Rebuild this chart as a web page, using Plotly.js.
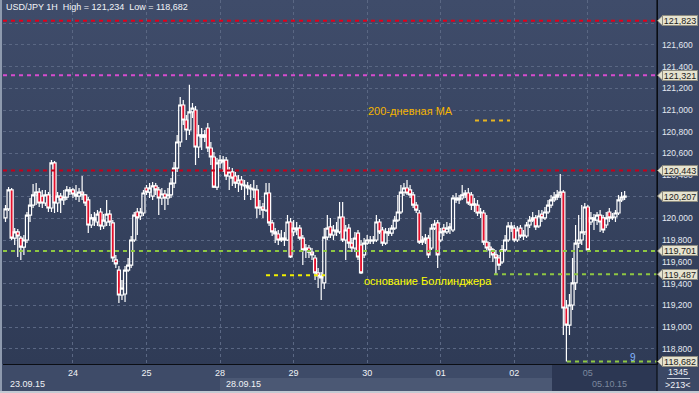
<!DOCTYPE html>
<html><head><meta charset="utf-8">
<script src="https://cdn.plot.ly/plotly-3.0.1.min.js"></script>
<style>
html,body{margin:0;padding:0;background:#3a4764;}
#wrap{position:relative;width:699px;height:393px;overflow:hidden;}
.bg{position:absolute;}
#chart{position:absolute;left:0;top:0;width:699px;height:393px;}
</style></head><body>
<div id="wrap">
<div class="bg" style="left:0;top:0;width:699px;height:364px;background:linear-gradient(#3f4c6a,#2f3b56);"></div>
<div class="bg" style="left:0;top:364px;width:657px;height:29px;background:#3e4b68;"></div>
<div class="bg" style="left:220px;top:378px;width:332px;height:13px;background:#4b5874;"></div>
<div class="bg" style="left:552px;top:364px;width:105px;height:27px;background:#2c3753;"></div>
<div class="bg" style="left:657px;top:364px;width:42px;height:29px;background:#3b4865;"></div>
<div class="bg" style="left:667px;top:378px;width:23px;height:1px;background:#c8d0dc;"></div>
<div class="bg" style="left:0;top:0;width:2px;height:393px;background:#8e9aae;"></div>
<div class="bg" style="left:0;top:391px;width:699px;height:2px;background:#c3cad3;"></div>
<div id="chart"></div>
</div>
<script>
// ---- data (USD/JPY, 1H candles, 23.09.15 - 05.10.15) ----
const openP=[120.005,120.088,120.263,119.820,119.876,119.820,119.737,119.802,120.032,120.124,
120.217,120.244,120.207,120.143,120.217,120.097,120.512,120.143,120.207,120.171,
120.198,120.263,120.263,120.226,120.207,120.244,120.217,120.171,119.940,120.005,
119.968,120.060,119.931,119.968,120.041,119.959,119.618,119.525,119.295,119.304,
119.525,119.571,119.802,120.060,120.023,120.051,120.281,120.244,120.207,120.300,
120.263,120.189,120.226,120.189,120.217,120.327,120.465,120.705,121.046,120.908,
120.816,120.982,121.000,120.659,120.770,120.751,120.834,120.650,120.567,120.290,
120.512,120.539,120.539,120.392,120.429,120.392,120.327,120.355,120.309,120.300,
120.281,120.272,120.263,120.097,120.106,120.078,120.235,119.959,119.876,119.857,
119.802,119.820,119.802,119.968,119.876,119.912,119.912,119.820,119.710,119.728,
119.691,119.636,119.498,119.470,119.406,119.829,119.922,119.848,119.894,119.876,
120.014,119.802,119.912,119.774,119.728,119.866,119.756,119.664,119.774,119.802,
119.793,119.802,119.968,119.894,119.774,119.876,119.866,119.912,119.986,120.060,
120.244,120.281,120.263,120.217,120.124,120.051,119.783,119.802,119.820,119.728,
119.912,119.959,119.802,119.912,119.876,119.912,119.894,120.189,120.171,120.189,
120.217,120.235,120.217,120.124,120.124,120.051,120.051,119.783,119.737,119.710,
119.664,119.636,119.599,119.710,119.802,119.931,119.912,119.802,119.912,119.839,
119.839,119.940,119.986,120.005,119.931,120.041,120.005,120.060,120.124,120.171,
120.198,120.217,120.244,119.175,119.018,119.203,119.406,119.774,119.802,119.876,
120.106,119.968,120.005,119.986,120.032,120.005,119.940,120.060,120.005,120.014,
120.051,120.171,120.198];
const highP=[120.124,120.290,120.281,119.912,119.903,119.839,119.848,120.060,120.189,120.318,
120.327,120.281,120.263,120.263,120.244,120.539,120.530,120.244,120.235,120.263,
120.300,120.290,120.281,120.309,120.281,120.392,120.226,120.198,120.041,120.060,
120.078,120.097,120.041,120.171,120.078,119.986,119.664,119.562,119.433,119.562,
119.636,119.839,120.060,120.097,120.097,120.263,120.309,120.327,120.336,120.327,
120.290,120.281,120.263,120.281,120.373,120.521,120.770,121.120,121.092,120.954,
121.234,121.065,121.037,120.862,120.834,120.816,120.880,120.705,120.613,120.558,
120.585,120.576,120.567,120.475,120.465,120.429,120.401,120.392,120.355,120.336,
120.318,120.355,120.309,120.171,120.143,120.327,120.327,119.986,119.912,119.894,
119.894,119.876,120.032,120.005,119.986,119.968,119.940,119.848,119.765,119.756,
119.728,119.664,119.544,119.507,119.912,120.032,120.005,119.940,119.968,120.152,
120.152,119.940,119.949,119.820,119.876,119.894,119.802,119.820,119.848,119.839,
119.839,120.032,119.995,119.922,119.912,119.912,119.940,120.023,120.217,120.309,
120.327,120.355,120.309,120.244,120.152,120.078,119.839,119.857,119.848,119.949,
119.986,119.986,119.912,119.949,119.968,119.959,120.217,120.235,120.217,120.309,
120.263,120.281,120.244,120.189,120.171,120.097,120.078,120.032,119.783,119.728,
119.710,119.664,119.756,119.848,119.968,119.968,119.940,119.931,119.940,119.894,
119.968,120.023,120.060,120.032,120.078,120.078,120.106,120.171,120.217,120.244,
120.263,120.410,120.263,119.249,119.304,119.636,119.940,120.032,120.124,120.143,
120.124,120.060,120.041,120.060,120.078,120.032,120.060,120.097,120.051,120.078,
120.217,120.244,120.253];
const lowP=[119.968,120.069,119.802,119.756,119.645,119.618,119.664,119.774,119.968,120.097,
120.124,120.106,120.097,120.115,120.060,120.060,120.051,120.060,120.051,120.124,
120.171,120.217,120.189,120.171,120.152,120.171,120.115,119.866,119.912,119.931,
119.931,119.894,119.903,119.931,119.931,119.599,119.544,119.221,119.249,119.231,
119.507,119.544,119.783,119.848,119.986,120.023,120.217,120.189,120.171,120.217,
120.032,120.124,120.078,120.124,120.189,120.281,120.429,120.659,120.862,120.724,
120.770,120.926,120.493,120.558,120.631,120.705,120.613,120.493,120.281,120.263,
120.465,120.429,120.355,120.263,120.300,120.281,120.244,120.263,120.171,120.217,
120.171,120.189,120.005,120.032,120.005,120.060,119.931,119.839,119.774,119.756,
119.783,119.747,119.793,119.636,119.839,119.848,119.802,119.571,119.636,119.636,
119.618,119.433,119.359,119.249,119.350,119.802,119.820,119.802,119.839,119.857,
119.783,119.618,119.728,119.691,119.691,119.618,119.488,119.636,119.756,119.765,
119.765,119.783,119.857,119.747,119.756,119.839,119.839,119.894,119.968,120.041,
120.207,120.217,120.189,120.097,120.051,119.765,119.756,119.765,119.636,119.710,
119.894,119.544,119.783,119.839,119.857,119.857,119.876,120.143,120.134,120.171,
120.189,120.124,120.078,120.060,120.023,120.005,119.756,119.691,119.636,119.599,
119.479,119.525,119.581,119.691,119.783,119.876,119.783,119.783,119.820,119.802,
119.820,119.912,119.968,119.894,119.912,119.968,119.986,120.041,120.097,120.152,
120.171,120.189,118.926,118.682,118.926,119.157,119.341,119.728,119.756,119.848,
119.691,119.940,119.894,119.940,119.876,119.866,119.912,119.968,119.986,119.968,
120.032,120.152,120.171];
const closeP=[120.088,120.263,119.820,119.876,119.839,119.737,119.802,120.032,120.124,120.217,
120.244,120.143,120.143,120.217,120.097,120.512,120.143,120.207,120.171,120.198,
120.263,120.253,120.226,120.207,120.244,120.217,120.143,119.940,120.005,119.986,
120.041,119.931,119.986,120.041,119.968,119.636,119.581,119.295,119.359,119.525,
119.571,119.802,120.032,120.005,120.060,120.235,120.244,120.281,120.300,120.263,
120.189,120.226,120.189,120.217,120.327,120.465,120.705,121.046,120.908,120.816,
120.982,121.018,120.659,120.770,120.751,120.770,120.650,120.567,120.290,120.512,
120.539,120.521,120.392,120.429,120.373,120.327,120.355,120.309,120.300,120.281,
120.272,120.263,120.097,120.106,120.078,120.235,119.959,119.876,119.857,119.802,
119.820,119.802,119.968,119.645,119.912,119.894,119.820,119.710,119.728,119.691,
119.664,119.498,119.470,119.452,119.829,119.912,119.848,119.894,119.876,120.014,
119.802,119.894,119.774,119.728,119.820,119.645,119.498,119.774,119.802,119.793,
119.802,119.968,119.876,119.774,119.876,119.866,119.912,119.986,120.060,120.244,
120.281,120.235,120.217,120.124,120.078,119.783,119.802,119.820,119.664,119.912,
119.949,119.664,119.876,119.876,119.912,119.922,120.189,120.171,120.189,120.217,
120.235,120.143,120.124,120.134,120.051,120.060,119.783,119.728,119.710,119.664,
119.636,119.571,119.710,119.802,119.931,119.912,119.802,119.894,119.839,119.848,
119.940,119.986,120.005,119.922,120.023,120.005,120.060,120.124,120.171,120.198,
120.217,120.244,119.175,119.018,119.203,119.406,119.774,119.802,119.876,120.106,
119.710,120.005,119.986,120.032,119.968,119.894,120.005,120.005,120.014,120.051,
120.171,120.198,120.207];
const dayTickIdx=[22,46,70,94,118,142,166,190];
const dayTickText=['24','25','28','29','30','01','02','05'];
const dateLabels=['23.09.15','28.09.15','05.10.15'];
const yTicks=[118.8,119.0,119.2,119.4,119.6,119.8,120.0,120.2,120.4,120.6,120.8,121.0,121.2,121.4,121.6,121.8];
const yTickText=['118,800','119,000','119,200','119,400','119,600','119,800','120,000','','120,400','120,600','120,800','121,000','121,200','121,400','121,600',''];
const levelPrices=[121.823,121.321,120.443,120.207,119.701,119.487,118.682];
const levelLabels=['121,823','121,321','120,443','120,207','119,701','119,487','118,682'];
const maLevel=120.903;
const bollLevel=119.478;
const titleText='USD/JPY 1H  High = 121,234  Low = 118,682';
const maText='200-дневная МА';
const bollText='основание Боллинджера';
const cornerTop='1345', cornerBottom='>213<', countText='9';

// ---- geometry ----
const W=699,H=393,L=3,R=42,T=0,B=29;
const pw=W-L-R, ph=H-T-B;
const xRange=[-0.816,212.56], yRange=[118.659,122.014];
const px=x=>(x-L)/pw, py=y=>1-(y-T)/ph;
const xd=x=>xRange[0]+(x-L)/pw*(xRange[1]-xRange[0]);
const pyPrice=p=>(p-yRange[0])/(yRange[1]-yRange[0]);
const FONT='"Liberation Sans", Arial, sans-serif';

const idx=openP.map((_,i)=>i);
const trace={type:'candlestick',x:idx,open:openP,high:highP,low:lowP,close:closeP,
  increasing:{line:{color:'#ffffff',width:1.2},fillcolor:'rgba(0,0,0,0)'},
  decreasing:{line:{color:'#ffffff',width:1.2},fillcolor:'#e3102c'},
  whiskerwidth:0,hoverinfo:'skip',showlegend:false};

const shapes=[];
function hline(p,color,x0px,x1px,dash,w){
  if(x0px==null) shapes.push({type:'line',xref:'paper',yref:'y',x0:0,x1:1,y0:p,y1:p,line:{color:color,width:w||2,dash:dash||'4px,4px'}});
  else shapes.push({type:'line',xref:'x',yref:'y',x0:xd(x0px),x1:xd(x1px),y0:p,y1:p,line:{color:color,width:w||2,dash:dash||'4px,4px'}});
}
hline(levelPrices[0],'#e0001b');
hline(levelPrices[1],'#d84ccf');
hline(levelPrices[2],'#c4001a');
hline(levelPrices[4],'#8fc743');
hline(levelPrices[5],'#8fc743',494,657);
hline(levelPrices[6],'#8fc743',567,657);
hline(bollLevel,'#f2f000',266,325);
hline(maLevel,'#e6b422',475,510);
shapes.push({type:'line',xref:'paper',yref:'paper',x0:1,x1:1,y0:1,y1:py(391),line:{color:'#0b0e14',width:1.2}});

const annotations=[];
annotations.push({xref:'paper',yref:'paper',x:px(4),y:py(7),xanchor:'left',yanchor:'middle',showarrow:false,
  text:titleText,font:{family:FONT,size:9,color:'#f2f4f8'}});
annotations.push({xref:'paper',yref:'paper',x:px(366),y:py(111),xanchor:'left',yanchor:'middle',showarrow:false,
  text:maText,font:{family:FONT,size:11,color:'#f5b400'}});
annotations.push({xref:'paper',yref:'paper',x:px(362),y:py(281),xanchor:'left',yanchor:'middle',showarrow:false,
  text:bollText,font:{family:FONT,size:11,color:'#ffff00'}});
annotations.push({xref:'paper',yref:'paper',x:px(633),y:py(357),xanchor:'center',yanchor:'middle',showarrow:false,
  text:countText,font:{family:FONT,size:10,color:'#86b6ff'}});
annotations.push({xref:'paper',yref:'paper',x:px(8),y:py(384),xanchor:'left',yanchor:'middle',showarrow:false,
  text:dateLabels[0],font:{family:FONT,size:9,color:'#f0f2f6'}});
annotations.push({xref:'paper',yref:'paper',x:px(224),y:py(384),xanchor:'left',yanchor:'middle',showarrow:false,
  text:dateLabels[1],font:{family:FONT,size:9,color:'#f0f2f6'}});
annotations.push({xref:'paper',yref:'paper',x:px(590),y:py(384),xanchor:'left',yanchor:'middle',showarrow:false,
  text:dateLabels[2],font:{family:FONT,size:9,color:'#7c889e'}});
annotations.push({xref:'paper',yref:'paper',x:px(678),y:py(372),xanchor:'center',yanchor:'middle',showarrow:false,
  text:cornerTop,font:{family:FONT,size:9,color:'#f0f2f6'}});
annotations.push({xref:'paper',yref:'paper',x:px(678),y:py(385),xanchor:'center',yanchor:'middle',showarrow:false,
  text:cornerBottom,font:{family:FONT,size:9,color:'#f0f2f6'}});
levelPrices.forEach((p,k)=>{
  const yp=pyPrice(p), hh=5/ph;
  shapes.push({type:'path',xref:'paper',yref:'paper',layer:'above',
    path:`M ${px(657.5)},${yp} L ${px(662.5)},${yp+hh} L ${px(662.5)},${yp-hh} Z`,
    fillcolor:'#e6e3cf',line:{color:'#8e8c80',width:0.8}});
  annotations.push({xref:'paper',yref:'paper',x:px(662),y:yp,xanchor:'left',yanchor:'middle',showarrow:false,
    text:levelLabels[k],bgcolor:'#e6e3cf',bordercolor:'#8e8c80',borderwidth:1,borderpad:0,width:34,height:9,
    font:{family:FONT,size:9,color:'#1c1c1c'}});
});

const layout={width:W,height:H,margin:{l:L,r:R,t:T,b:B,pad:0},
  paper_bgcolor:'rgba(0,0,0,0)',plot_bgcolor:'rgba(0,0,0,0)',
  separators:', ',showlegend:false,hovermode:false,boxgap:0,boxgroupgap:0,
  xaxis:{range:xRange,type:'linear',tickmode:'array',tickvals:dayTickIdx,
    ticktext:dayTickText.map((t,i)=>i===dayTickText.length-1?`<span style="color:#7c889e">${t}</span>`:t),
    showgrid:true,gridcolor:'#5a6783',gridwidth:1,griddash:'3px,3px',zeroline:false,
    showline:true,linecolor:'#0b0e14',linewidth:1.2,ticks:'',ticklen:0,
    tickfont:{family:FONT,size:9,color:'#f0f2f6'},rangeslider:{visible:false},fixedrange:true},
  yaxis:{range:yRange,side:'right',tickmode:'array',tickvals:yTicks,ticktext:yTickText,
    showgrid:true,gridcolor:'#5a6783',gridwidth:1,griddash:'3px,3px',zeroline:false,
    showline:true,linecolor:'#0b0e14',linewidth:1.2,ticks:'',ticklen:0,ticklabelstandoff:2,
    tickfont:{family:FONT,size:8.5,color:'#e4e9f1'},fixedrange:true},
  shapes:shapes,annotations:annotations};

Plotly.newPlot('chart',[trace],layout,{staticPlot:true,displayModeBar:false});
</script>
</body></html>
